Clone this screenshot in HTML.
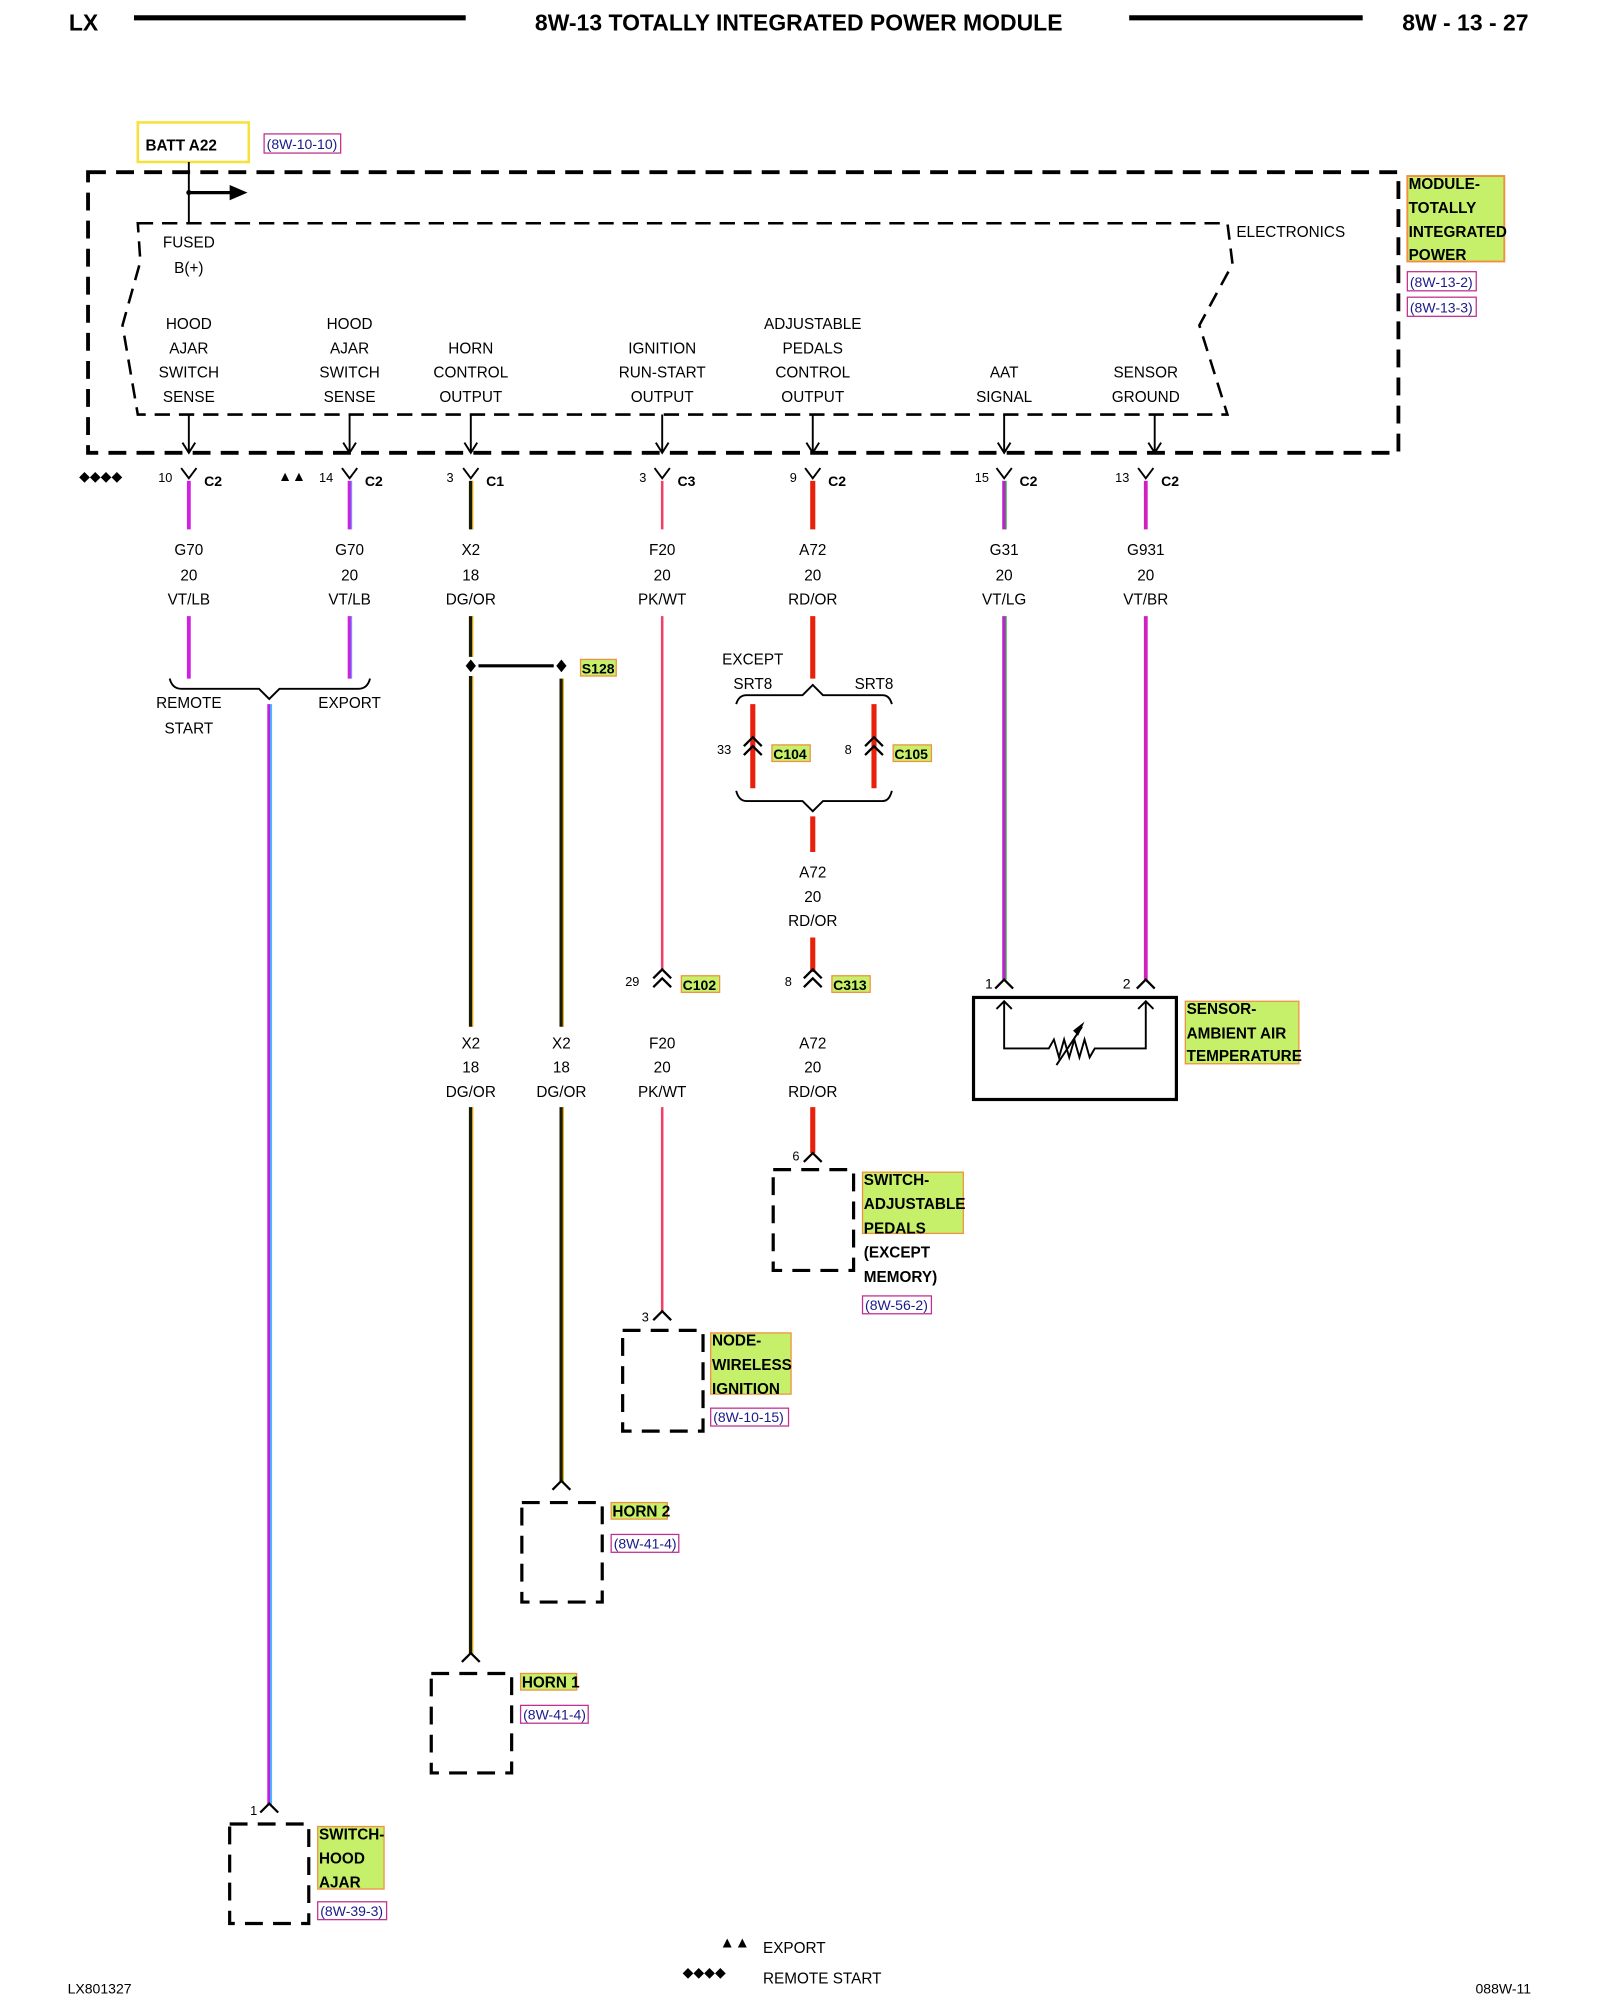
<!DOCTYPE html>
<html><head><meta charset="utf-8"><style>
html,body{margin:0;padding:0;background:#fff;}
svg{display:block;}
text{font-family:"Liberation Sans",Arial,sans-serif;font-size:12px;fill:#000;}
.c{text-anchor:middle;}
.b{font-weight:bold;}
.ref{font-size:11px;fill:#1a1a8a;}
</style></head><body>
<svg width="1600" height="2000" viewBox="0 0 1254 1568" preserveAspectRatio="none" xmlns="http://www.w3.org/2000/svg">
<!-- header -->
<text x="54" y="24" class="b" style="font-size:18px">LX</text>
<line x1="105" y1="14" x2="365" y2="14" stroke="#000" stroke-width="4"/>
<text x="626" y="24" class="b c" style="font-size:18px">8W-13 TOTALLY INTEGRATED POWER MODULE</text>
<line x1="885" y1="14" x2="1068" y2="14" stroke="#000" stroke-width="4"/>
<text x="1198" y="24" class="b" style="font-size:18px;text-anchor:end">8W - 13 - 27</text>

<!-- BATT -->
<rect x="108" y="96" width="87" height="31" fill="none" stroke="#f5e23a" stroke-width="2"/>
<text x="114" y="118" class="b" style="font-size:12px">BATT A22</text>
<rect x="207" y="105" width="60" height="15" fill="none" stroke="#c03090" stroke-width="1"/>
<text x="209" y="117" class="ref">(8W-10-10)</text>

<!-- outer module box -->
<rect x="69" y="135" width="1027" height="220" fill="none" stroke="#000" stroke-width="3" stroke-dasharray="14,8"/>
<!-- electronics -->
<path d="M108,175 L962,175 L966,207 L940,255 L962,325 L108,325 L96,255 L110,205 Z" fill="none" stroke="#000" stroke-width="2" stroke-dasharray="12,7"/>
<line x1="148" y1="127" x2="148" y2="175" stroke="#000" stroke-width="1.5"/>
<line x1="148" y1="151" x2="182" y2="151" stroke="#000" stroke-width="2.5"/>
<polygon points="180,145 194,151 180,157" fill="#000"/>
<circle cx="148" cy="151" r="2" fill="#000"/>
<text x="969" y="186">ELECTRONICS</text>
<text x="148" y="194" class="c">FUSED</text>
<text x="148" y="214" class="c">B(+)</text>

<!-- module label -->
<rect x="1103" y="138" width="76" height="67" fill="#c6f06a" stroke="#f09040" stroke-width="1.5"/>
<text x="1104" y="148" class="b">MODULE-</text>
<text x="1104" y="167" class="b">TOTALLY</text>
<text x="1104" y="186" class="b">INTEGRATED</text>
<text x="1104" y="204" class="b">POWER</text>
<rect x="1103" y="213" width="54" height="15" fill="none" stroke="#c03090"/>
<text x="1105" y="225" class="ref">(8W-13-2)</text>
<rect x="1103" y="233" width="54" height="15" fill="none" stroke="#c03090"/>
<text x="1105" y="245" class="ref">(8W-13-3)</text>

<!-- column labels -->
<g class="c">
<text x="148" y="258" class="c">HOOD</text><text x="148" y="277" class="c">AJAR</text><text x="148" y="296" class="c">SWITCH</text><text x="148" y="315" class="c">SENSE</text>
<text x="274" y="258" class="c">HOOD</text><text x="274" y="277" class="c">AJAR</text><text x="274" y="296" class="c">SWITCH</text><text x="274" y="315" class="c">SENSE</text>
<text x="369" y="277" class="c">HORN</text><text x="369" y="296" class="c">CONTROL</text><text x="369" y="315" class="c">OUTPUT</text>
<text x="519" y="277" class="c">IGNITION</text><text x="519" y="296" class="c">RUN-START</text><text x="519" y="315" class="c">OUTPUT</text>
<text x="637" y="258" class="c">ADJUSTABLE</text><text x="637" y="277" class="c">PEDALS</text><text x="637" y="296" class="c">CONTROL</text><text x="637" y="315" class="c">OUTPUT</text>
<text x="787" y="296" class="c">AAT</text><text x="787" y="315" class="c">SIGNAL</text>
<text x="898" y="296" class="c">SENSOR</text><text x="898" y="315" class="c">GROUND</text>
</g>

<!-- arrows down + Y connectors -->
<g stroke="#000" stroke-width="1.5" fill="none">
<path d="M148,325V355M143,347L148,355L153,347"/>
<path d="M274,325V355M269,347L274,355L279,347"/>
<path d="M369,325V355M364,347L369,355L374,347"/>
<path d="M519,325V355M514,347L519,355L524,347"/>
<path d="M637,325V355M632,347L637,355L642,347"/>
<path d="M787,325V355M782,347L787,355L792,347"/>
<path d="M905,325V355M900,347L905,355L910,347"/>
<path d="M142,367L148,375L154,367"/><path d="M268,367L274,375L280,367"/><path d="M363,367L369,375L375,367"/>
<path d="M513,367L519,375L525,367"/><path d="M631,367L637,375L643,367"/><path d="M781,367L787,375L793,367"/><path d="M892,367L898,375L904,367"/>
</g>
<text x="124" y="378" style="font-size:10px">10</text><text x="160" y="381" class="b" style="font-size:11px">C2</text>
<text x="250" y="378" style="font-size:10px">14</text><text x="286" y="381" class="b" style="font-size:11px">C2</text>
<text x="350" y="378" style="font-size:10px">3</text><text x="381" y="381" class="b" style="font-size:11px">C1</text>
<text x="501" y="378" style="font-size:10px">3</text><text x="531" y="381" class="b" style="font-size:11px">C3</text>
<text x="619" y="378" style="font-size:10px">9</text><text x="649" y="381" class="b" style="font-size:11px">C2</text>
<text x="764" y="378" style="font-size:10px">15</text><text x="799" y="381" class="b" style="font-size:11px">C2</text>
<text x="874" y="378" style="font-size:10px">13</text><text x="910" y="381" class="b" style="font-size:11px">C2</text>
<text x="62" y="377" style="font-size:11px">◆◆◆◆</text>
<text x="218" y="377" style="font-size:11px">▲▲</text>

<!-- wire labels top -->
<g>
<text x="148" y="435" class="c">G70</text><text x="148" y="455" class="c">20</text><text x="148" y="474" class="c">VT/LB</text>
<text x="274" y="435" class="c">G70</text><text x="274" y="455" class="c">20</text><text x="274" y="474" class="c">VT/LB</text>
<text x="369" y="435" class="c">X2</text><text x="369" y="455" class="c">18</text><text x="369" y="474" class="c">DG/OR</text>
<text x="519" y="435" class="c">F20</text><text x="519" y="455" class="c">20</text><text x="519" y="474" class="c">PK/WT</text>
<text x="637" y="435" class="c">A72</text><text x="637" y="455" class="c">20</text><text x="637" y="474" class="c">RD/OR</text>
<text x="787" y="435" class="c">G31</text><text x="787" y="455" class="c">20</text><text x="787" y="474" class="c">VT/LG</text>
<text x="898" y="435" class="c">G931</text><text x="898" y="455" class="c">20</text><text x="898" y="474" class="c">VT/BR</text>
</g>

<!-- wires -->
<g stroke-linecap="butt">
<path d="M148,377V415M148,483V532" stroke="#d020e0" stroke-width="3"/>
<path d="M274,377V415M274,483V532" stroke="#d020e0" stroke-width="3"/>
<path d="M275.5,377V415M275.5,483V532" stroke="#60a0ff" stroke-width="1"/>
<path d="M369,377V415M369,483V515M369,530V805M369,868V1297" stroke="#1a1a00" stroke-width="3"/>
<path d="M370.5,377V415M370.5,483V515M370.5,530V805M370.5,868V1297" stroke="#e0b020" stroke-width="1"/>
<path d="M440,532V805M440,868V1162" stroke="#1a1a00" stroke-width="3"/>
<path d="M441.5,532V805M441.5,868V1162" stroke="#e0b020" stroke-width="1"/>
<path d="M519,377V415M519,483V760M519,868V1028" stroke="#f0406a" stroke-width="2"/>
<path d="M637,377V415M637,483V532M637,640V668M637,735V762M637,868V904" stroke="#e8200c" stroke-width="4"/>
<path d="M590,552V618M685,552V618" stroke="#e8200c" stroke-width="4"/>
<path d="M787,377V415M787,483V768" stroke="#c020d0" stroke-width="3"/>
<path d="M788.5,377V415M788.5,483V768" stroke="#30b040" stroke-width="1"/>
<path d="M898,377V415M898,483V768" stroke="#d020c0" stroke-width="3"/>
<path d="M211,552V1415" stroke="#c020e0" stroke-width="3"/>
<path d="M212.5,552V1415" stroke="#40c0ff" stroke-width="1.5"/>
</g>

<!-- braces -->
<g stroke="#000" stroke-width="1.5" fill="none">
<path d="M133,532Q135,540 142,540H203L211,548L219,540H281Q288,540 290,532"/>
<path d="M577,552Q579,545 585,545H629L637,537L645,545H692Q697,545 699,552"/>
<path d="M577,620Q579,628 585,628H629L637,636L645,628H692Q697,628 699,620"/>
</g>
<text x="148" y="555" class="c">REMOTE</text><text x="148" y="575" class="c">START</text>
<text x="274" y="555" class="c">EXPORT</text>
<text x="590" y="521" class="c">EXCEPT</text>
<text x="590" y="540" class="c">SRT8</text>
<text x="685" y="540" class="c">SRT8</text>

<!-- splice -->
<line x1="375" y1="522" x2="434" y2="522" stroke="#000" stroke-width="2.5"/>
<path d="M369,517L373,522L369,527L365,522Z M440,517L444,522L440,527L436,522Z" fill="#000"/>
<rect x="455" y="517" width="28" height="13" fill="#c6f06a" stroke="#f09040"/>
<text x="456" y="528" class="b" style="font-size:11px">S128</text>

<!-- double chevrons inline -->
<g stroke="#000" stroke-width="1.8" fill="none">
<path d="M583,585L590,578L597,585M583,592L590,585L597,592"/>
<path d="M678,585L685,578L692,585M678,592L685,585L692,592"/>
<path d="M512,767L519,760L526,767M512,774L519,767L526,774"/>
<path d="M630,767L637,760L644,767M630,774L637,767L644,774"/>
<path d="M204,1421L211,1414L218,1421"/>
<path d="M362,1303L369,1296L376,1303"/>
<path d="M433,1168L440,1161L447,1168"/>
<path d="M512,1035L519,1028L526,1035"/>
<path d="M630,911L637,904L644,911"/>
<path d="M780,775L787,768L794,775"/>
<path d="M891,775L898,768L905,775"/>
</g>
<text x="562" y="591" style="font-size:10px">33</text>
<rect x="605" y="584" width="30" height="13" fill="#c6f06a" stroke="#f09040"/><text x="606" y="595" class="b" style="font-size:11px">C104</text>
<text x="662" y="591" style="font-size:10px">8</text>
<rect x="700" y="584" width="30" height="13" fill="#c6f06a" stroke="#f09040"/><text x="701" y="595" class="b" style="font-size:11px">C105</text>
<text x="490" y="773" style="font-size:10px">29</text>
<rect x="534" y="765" width="30" height="13" fill="#c6f06a" stroke="#f09040"/><text x="535" y="776" class="b" style="font-size:11px">C102</text>
<text x="615" y="773" style="font-size:10px">8</text>
<rect x="652" y="765" width="30" height="13" fill="#c6f06a" stroke="#f09040"/><text x="653" y="776" class="b" style="font-size:11px">C313</text>

<text x="637" y="688" class="c">A72</text><text x="637" y="707" class="c">20</text><text x="637" y="726" class="c">RD/OR</text>

<!-- lower labels -->
<text x="369" y="822" class="c">X2</text><text x="369" y="841" class="c">18</text><text x="369" y="860" class="c">DG/OR</text>
<text x="440" y="822" class="c">X2</text><text x="440" y="841" class="c">18</text><text x="440" y="860" class="c">DG/OR</text>
<text x="519" y="822" class="c">F20</text><text x="519" y="841" class="c">20</text><text x="519" y="860" class="c">PK/WT</text>
<text x="637" y="822" class="c">A72</text><text x="637" y="841" class="c">20</text><text x="637" y="860" class="c">RD/OR</text>

<!-- sensor -->
<rect x="763" y="782" width="159" height="80" fill="none" stroke="#000" stroke-width="2.5"/>
<g stroke="#000" stroke-width="1.5" fill="none">
<path d="M787,785V822H822L826,815L830,829L834,815L838,829L842,815L846,829L850,815L854,829L858,822H898V785"/>
<path d="M781,791L787,785L793,791M892,791L898,785L904,791"/>
<path d="M828,835L848,805"/>
</g>
<polygon points="850,801 845,812 841,808" fill="#000"/>
<text x="772" y="775" style="font-size:11px">1</text>
<text x="880" y="775" style="font-size:11px">2</text>
<rect x="929" y="785" width="89" height="49" fill="#c6f06a" stroke="#f09040"/>
<text x="930" y="795" class="b">SENSOR-</text><text x="930" y="814" class="b">AMBIENT AIR</text><text x="930" y="832" class="b">TEMPERATURE</text>

<!-- component boxes -->
<g fill="none" stroke="#000" stroke-width="2.5" stroke-dasharray="14,8">
<rect x="606" y="917" width="63" height="79"/>
<rect x="488" y="1043" width="63" height="79"/>
<rect x="409" y="1178" width="63" height="78"/>
<rect x="338" y="1312" width="63" height="78"/>
<rect x="180" y="1430" width="62" height="78"/>
</g>
<text x="621" y="910" style="font-size:10px">6</text>
<text x="503" y="1036" style="font-size:10px">3</text>
<text x="196" y="1423" style="font-size:10px">1</text>

<rect x="676" y="919" width="79" height="48" fill="#c6f06a" stroke="#f09040"/>
<text x="677" y="929" class="b">SWITCH-</text><text x="677" y="948" class="b">ADJUSTABLE</text><text x="677" y="967" class="b">PEDALS</text>
<text x="677" y="986" class="b">(EXCEPT</text><text x="677" y="1005" class="b">MEMORY)</text>
<rect x="676" y="1016" width="54" height="14" fill="none" stroke="#c03090"/><text x="678" y="1027" class="ref">(8W-56-2)</text>

<rect x="557" y="1045" width="63" height="48" fill="#c6f06a" stroke="#f09040"/>
<text x="558" y="1055" class="b">NODE-</text><text x="558" y="1074" class="b">WIRELESS</text><text x="558" y="1093" class="b">IGNITION</text>
<rect x="557" y="1104" width="61" height="14" fill="none" stroke="#c03090"/><text x="559" y="1115" class="ref">(8W-10-15)</text>

<rect x="479" y="1178" width="44" height="13" fill="#c6f06a" stroke="#f09040"/><text x="480" y="1189" class="b">HORN 2</text>
<rect x="479" y="1203" width="53" height="14" fill="none" stroke="#c03090"/><text x="481" y="1214" class="ref">(8W-41-4)</text>

<rect x="408" y="1312" width="44" height="13" fill="#c6f06a" stroke="#f09040"/><text x="409" y="1323" class="b">HORN 1</text>
<rect x="408" y="1337" width="53" height="14" fill="none" stroke="#c03090"/><text x="410" y="1348" class="ref">(8W-41-4)</text>

<rect x="249" y="1432" width="52" height="49" fill="#c6f06a" stroke="#f09040"/>
<text x="250" y="1442" class="b">SWITCH-</text><text x="250" y="1461" class="b">HOOD</text><text x="250" y="1480" class="b">AJAR</text>
<rect x="249" y="1491" width="54" height="14" fill="none" stroke="#c03090"/><text x="251" y="1502" class="ref">(8W-39-3)</text>

<!-- legend -->
<text x="564" y="1527" style="font-size:12px">▲▲</text><text x="598" y="1531">EXPORT</text>
<text x="535" y="1550" style="font-size:11px">◆◆◆◆</text><text x="598" y="1555">REMOTE START</text>
<text x="53" y="1563" style="font-size:11px">LX801327</text>
<text x="1200" y="1563" style="font-size:11px;text-anchor:end">088W-11</text>
</svg>
</body></html>
